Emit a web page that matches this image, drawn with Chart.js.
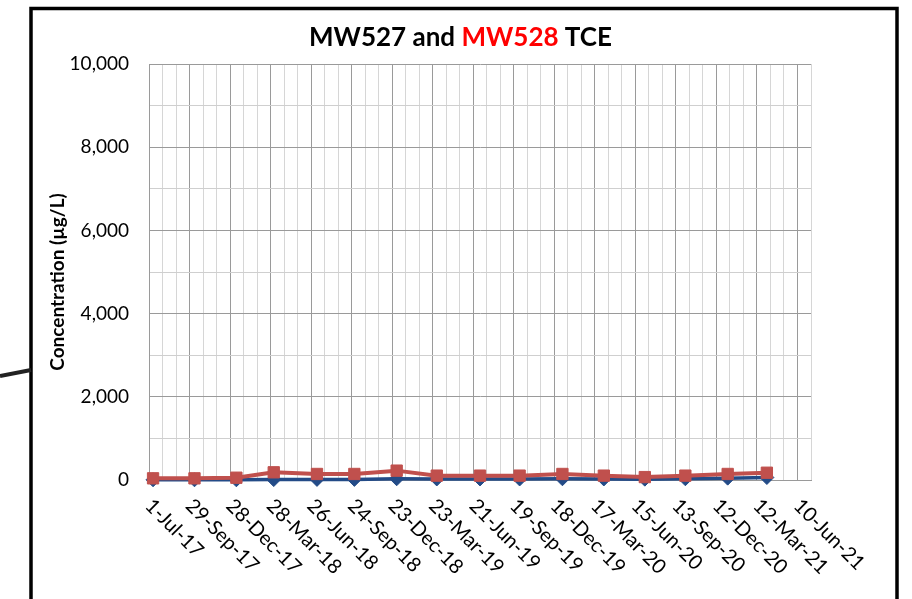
<!DOCTYPE html>
<html>
<head>
<meta charset="utf-8">
<script src="https://cdn.jsdelivr.net/npm/chart.js@4.4.0/dist/chart.umd.min.js"></script>
<style>
    html, body { margin: 0; padding: 0; background: #fff; }
</style>
</head>
<body>
<canvas id="line_chart" width="912" height="599"></canvas>
<script>
// axis starts on 1-Jul-17, ticks every 90 days, minor grid every 30
const startDate = '2017-07-01';
const tickLabels = ['1-Jul-17', '29-Sep-17', '28-Dec-17', '28-Mar-18', '26-Jun-18', '24-Sep-18',
    '23-Dec-18', '23-Mar-19', '21-Jun-19', '19-Sep-19', '18-Dec-19', '17-Mar-20', '15-Jun-20',
    '13-Sep-20', '12-Dec-20', '12-Mar-21', '10-Jun-21'];

const sampleDates = ['2017-07-10', '2017-10-10', '2018-01-11', '2018-04-04', '2018-07-09', '2018-09-30',
    '2019-01-02', '2019-04-01', '2019-07-06', '2019-10-02', '2020-01-05', '2020-04-06', '2020-07-06',
    '2020-10-04', '2021-01-06', '2021-04-03'];
const mw527 = [5, 5, 5, 10, 15, 15, 30, 25, 25, 25, 30, 25, 20, 30, 45, 60];
const mw528 = [40, 40, 55, 185, 145, 145, 225, 105, 105, 105, 145, 105, 70, 105, 145, 175];

const yMax = 10000;
const yLabelStep = 2000;

function dayOffset(s) {
    return Math.round((Date.parse(s) - Date.parse(startDate)) / 86400000);
}

function points(values) {
    return sampleDates.map((d, i) => ({ x: dayOffset(d), y: values[i] }));
}

const fontFamily = 'Lato, "Open Sans", sans-serif';

const decorations = {
    id: 'decorations',
    beforeDraw(chart) {
        const ctx = chart.ctx;
        ctx.save();
        // frame round the chart
        ctx.strokeStyle = '#000';
        ctx.lineWidth = 3.5;
        ctx.strokeRect(31, 8.5, 866, 620);
        // leader line coming in from the left
        ctx.strokeStyle = '#222';
        ctx.lineWidth = 4;
        ctx.beginPath();
        ctx.moveTo(0, 376);
        ctx.lineTo(31, 370);
        ctx.stroke();
        ctx.restore();
    },
    afterDraw(chart) {
        const ctx = chart.ctx;
        ctx.save();

        // title, two colours
        const parts = [['MW527 and ', '#000'], ['MW528', '#ff0000'], [' TCE', '#000']];
        ctx.font = 'bold 26px ' + fontFamily;
        ctx.textBaseline = 'alphabetic';
        ctx.textAlign = 'left';
        let total = 0;
        parts.forEach(p => total += ctx.measureText(p[0]).width);
        let tx = 460.5 - total / 2;
        parts.forEach(p => {
            ctx.fillStyle = p[1];
            ctx.fillText(p[0], tx, 46);
            tx += ctx.measureText(p[0]).width;
        });

        // y axis title
        ctx.save();
        ctx.translate(58, 282);
        ctx.rotate(-Math.PI / 2);
        ctx.font = 'bold 19px ' + fontFamily;
        ctx.fillStyle = '#000';
        ctx.textAlign = 'center';
        ctx.textBaseline = 'middle';
        ctx.fillText('Concentration (µg/L)', 0, 0);
        ctx.restore();

        // x tick labels, slanting down to the right
        const xs = chart.scales.x;
        ctx.font = '20px ' + fontFamily;
        ctx.fillStyle = '#000';
        ctx.textAlign = 'left';
        ctx.textBaseline = 'alphabetic';
        tickLabels.forEach((lab, i) => {
            const px = xs.getPixelForValue(i * 90);
            ctx.save();
            ctx.translate(px - 5, 507);
            ctx.rotate(Math.PI / 4);
            ctx.fillText(lab, 0, 0);
            ctx.restore();
        });

        ctx.restore();
    }
};

const ctx = document.getElementById('line_chart').getContext('2d');
new Chart(ctx, {
    type: 'line',
    data: {
        datasets: [{
            label: 'MW527',
            data: points(mw527),
            borderColor: '#234b87',
            backgroundColor: '#234b87',
            borderWidth: 3.5,
            pointStyle: 'rectRot',
            pointRadius: 7,
            pointBorderWidth: 1,
            clip: false,
            order: 2
        }, {
            label: 'MW528',
            data: points(mw528),
            borderColor: '#c0504d',
            backgroundColor: '#c0504d',
            borderWidth: 4,
            pointStyle: 'rect',
            pointRadius: 8,
            pointBorderWidth: 1,
            clip: false,
            order: 1
        }]
    },
    options: {
        responsive: false,
        animation: false,
        devicePixelRatio: 1,
        layout: { padding: { left: 0, top: 64, right: 101, bottom: 0 } },
        plugins: {
            legend: { display: false },
            tooltip: { enabled: false }
        },
        scales: {
            x: {
                type: 'linear',
                min: 0,
                max: 1470,
                ticks: { stepSize: 30, maxTicksLimit: 100, display: false },
                grid: {
                    drawTicks: false,
                    color: c => (c.tick && c.tick.value % 90 === 0) ? '#9a9a9a' : '#d6d6d6'
                },
                border: { color: '#9a9a9a' },
                afterFit: s => { s.height = 119; }
            },
            y: {
                min: 0,
                max: yMax,
                ticks: {
                    stepSize: 500,
                    maxTicksLimit: 50,
                    padding: 20,
                    color: '#000',
                    font: { family: fontFamily, size: 19 },
                    callback: v => v % yLabelStep === 0 ? v.toLocaleString('en-US') : ''
                },
                grid: {
                    drawTicks: false,
                    color: c => (c.tick && c.tick.value % yLabelStep === 0) ? '#9a9a9a' : '#cfcfcf'
                },
                border: { color: '#9a9a9a' },
                afterFit: s => { s.width = 149; }
            }
        }
    },
    plugins: [decorations]
});
</script>
</body>
</html>
